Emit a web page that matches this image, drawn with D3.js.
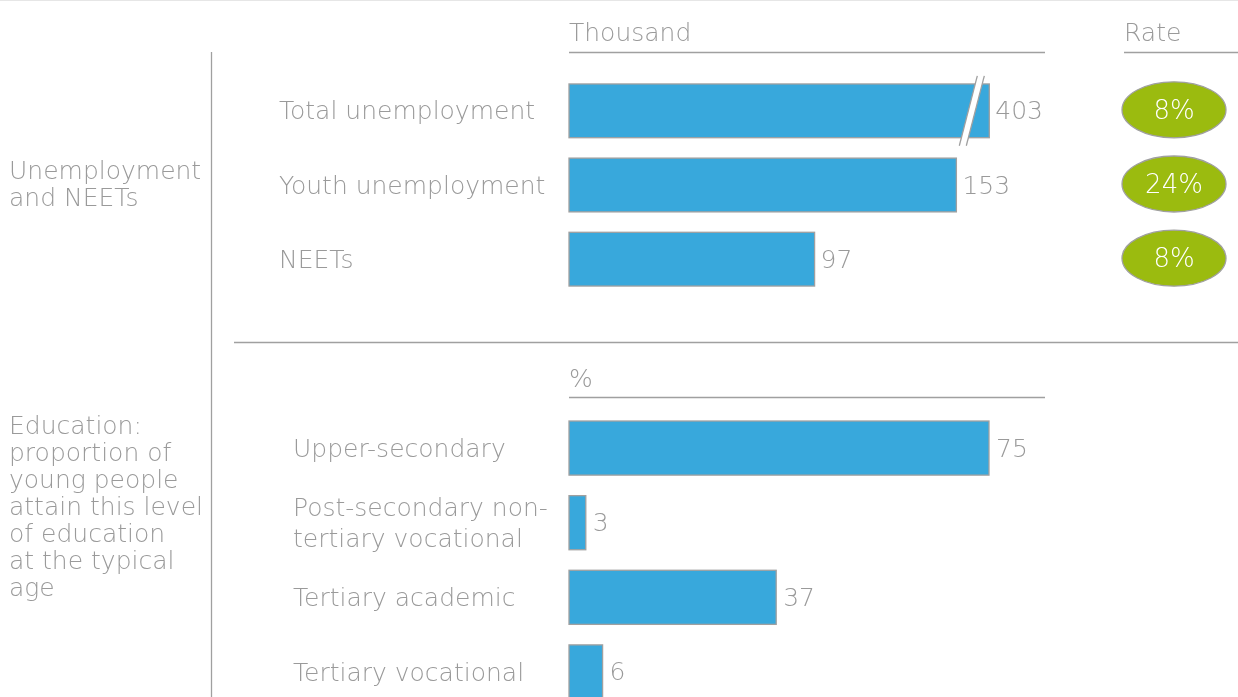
<!DOCTYPE html>
<html>
<head>
<meta charset="utf-8">
<script src="https://cdn.jsdelivr.net/npm/d3@7"></script>
<style>
  html, body { margin: 0; padding: 0; background: #fff; }
  svg { display: block; will-change: transform; -webkit-font-smoothing: antialiased; }
  text { font-family: "DejaVu Sans", sans-serif; font-weight: 200; fill: #9a9a9a; }
</style>
</head>
<body>
<svg id="chart" width="1238" height="697"></svg>
<script>
// Unemployment block (thousands) and rates
const unempCategories = ["Total unemployment", "Youth unemployment", "NEETs"];
const unempValues = [403, 153, 97];
const unempRates = [8, 24, 8];
// Value at which the over-long total bar is cut with a break mark
const unempBreakAt = 166;

// Education block (%)
const eduCategories = ["Upper-secondary", "Post-secondary non-tertiary vocational", "Tertiary academic", "Tertiary vocational"];
const eduLabelLines = [["Upper-secondary"], ["Post-secondary non-", "tertiary vocational"], ["Tertiary academic"], ["Tertiary vocational"]];
const eduValues = [75, 3, 37, 6];

// Group labels on the left
const groupLabels = [
  { lines: ["Unemployment", "and NEETs"], y: 170 },
  { lines: ["Education:", "proportion of", "young people", "attain this level", "of education", "at the typical", "age"], y: 425 }
];

const svg = d3.select("#chart");
const lineGray = "#a0a0a0";
const blue = "#38a8dc";
const green = "#9bbb0f";
const fs = 25;

// frame: faint top rule, vertical divider, section separator
svg.append("line").attr("x1", 0).attr("x2", 1238).attr("y1", 0.5).attr("y2", 0.5)
  .attr("stroke", "#e6e6e6").attr("stroke-width", 1);
svg.append("line").attr("x1", 211.5).attr("x2", 211.5).attr("y1", 52).attr("y2", 697)
  .attr("stroke", lineGray).attr("stroke-width", 1.3);
svg.append("line").attr("x1", 234).attr("x2", 1238).attr("y1", 342.5).attr("y2", 342.5)
  .attr("stroke", lineGray).attr("stroke-width", 1.3);

// group labels
groupLabels.forEach(g => {
  const t = svg.append("text").attr("x", 9).attr("y", g.y).attr("font-size", fs)
    .attr("dominant-baseline", "central");
  g.lines.forEach((l, i) => t.append("tspan").attr("x", 9).attr("dy", i === 0 ? 0 : 27).text(l));
});

// ---------- Unemployment block ----------
const xU = d3.scaleLinear().domain([0, 188]).range([569, 1045]);
const yU = d3.scaleBand().domain(unempCategories).range([73.75, 296.25])
  .paddingInner(0.275).paddingOuter(0.1375);

svg.append("text").attr("x", 569).attr("y", 32).attr("font-size", fs)
  .attr("dominant-baseline", "central").text("Thousand");
svg.append("line").attr("x1", xU(0)).attr("x2", xU.range()[1]).attr("y1", 52.5).attr("y2", 52.5)
  .attr("stroke", lineGray).attr("stroke-width", 1.3);
svg.append("text").attr("x", 1124).attr("y", 32).attr("font-size", fs)
  .attr("dominant-baseline", "central").text("Rate");
svg.append("line").attr("x1", 1124).attr("x2", 1238).attr("y1", 52.5).attr("y2", 52.5)
  .attr("stroke", lineGray).attr("stroke-width", 1.3);

const uData = unempCategories.map((c, i) => ({ c, v: unempValues[i], r: unempRates[i] }));
const barEnd = d => xU(Math.min(d.v, unempBreakAt));

svg.append("g").selectAll("rect").data(uData).join("rect")
  .attr("x", xU(0)).attr("y", d => yU(d.c))
  .attr("width", d => barEnd(d) - xU(0)).attr("height", yU.bandwidth())
  .attr("fill", blue).attr("stroke", lineGray).attr("stroke-width", 1.3);

// break mark on bars that exceed the cut value
uData.filter(d => d.v > unempBreakAt).forEach(d => {
  const yTop = yU(d.c) - 8, yBot = yU(d.c) + yU.bandwidth() + 8;
  const xb = barEnd(d) - 21;
  const slant = 18, gap = 7;
  svg.append("path")
    .attr("d", `M${xb - slant / 2},${yBot} L${xb + slant / 2},${yTop} L${xb + slant / 2 + gap},${yTop} L${xb - slant / 2 + gap},${yBot} Z`)
    .attr("fill", "#fff").attr("stroke", "none");
  [0, gap].forEach(o => svg.append("line")
    .attr("x1", xb - slant / 2 + o).attr("y1", yBot).attr("x2", xb + slant / 2 + o).attr("y2", yTop)
    .attr("stroke", lineGray).attr("stroke-width", 1.3));
});

svg.append("g").selectAll("text.val").data(uData).join("text")
  .attr("x", d => barEnd(d) + 6).attr("y", d => yU(d.c) + yU.bandwidth() / 2)
  .attr("font-size", fs).attr("dominant-baseline", "central").text(d => d.v);

svg.append("g").selectAll("text.cat").data(uData).join("text")
  .attr("x", 279).attr("y", d => yU(d.c) + yU.bandwidth() / 2)
  .attr("font-size", fs).attr("dominant-baseline", "central").text(d => d.c);

// rate badges
const rg = svg.append("g").selectAll("g").data(uData).join("g")
  .attr("transform", d => `translate(1174,${yU(d.c) + yU.bandwidth() / 2 - 1})`);
rg.append("ellipse").attr("rx", 52).attr("ry", 28)
  .attr("fill", green).attr("stroke", lineGray).attr("stroke-width", 1.3);
rg.append("text").attr("text-anchor", "middle").attr("dominant-baseline", "central")
  .attr("font-size", 26).style("fill", "#fff").text(d => d.r + "%");

// ---------- Education block ----------
const xE = d3.scaleLinear().domain([0, 85]).range([569, 1045]);
const yE = d3.scaleBand().domain(eduCategories).range([410.75, 709.25])
  .paddingInner(0.275).paddingOuter(0.1375);

svg.append("text").attr("x", 569).attr("y", 378).attr("font-size", fs)
  .attr("dominant-baseline", "central").text("%");
svg.append("line").attr("x1", xE(0)).attr("x2", xE.range()[1]).attr("y1", 397.5).attr("y2", 397.5)
  .attr("stroke", lineGray).attr("stroke-width", 1.3);

const eData = eduCategories.map((c, i) => ({ c, v: eduValues[i], lines: eduLabelLines[i] }));

svg.append("g").selectAll("rect").data(eData).join("rect")
  .attr("x", xE(0)).attr("y", d => yE(d.c))
  .attr("width", d => xE(d.v) - xE(0)).attr("height", yE.bandwidth())
  .attr("fill", blue).attr("stroke", lineGray).attr("stroke-width", 1.3);

svg.append("g").selectAll("text.val").data(eData).join("text")
  .attr("x", d => xE(d.v) + 7).attr("y", d => yE(d.c) + yE.bandwidth() / 2)
  .attr("font-size", fs).attr("dominant-baseline", "central").text(d => d.v);

eData.forEach(d => {
  const cy = yE(d.c) + yE.bandwidth() / 2;
  const lh = 31;
  const t = svg.append("text").attr("x", 293).attr("font-size", fs)
    .attr("dominant-baseline", "central")
    .attr("y", cy - (d.lines.length - 1) * lh / 2);
  d.lines.forEach((l, i) => t.append("tspan").attr("x", 293).attr("dy", i === 0 ? 0 : lh).text(l));
});
</script>
</body>
</html>
